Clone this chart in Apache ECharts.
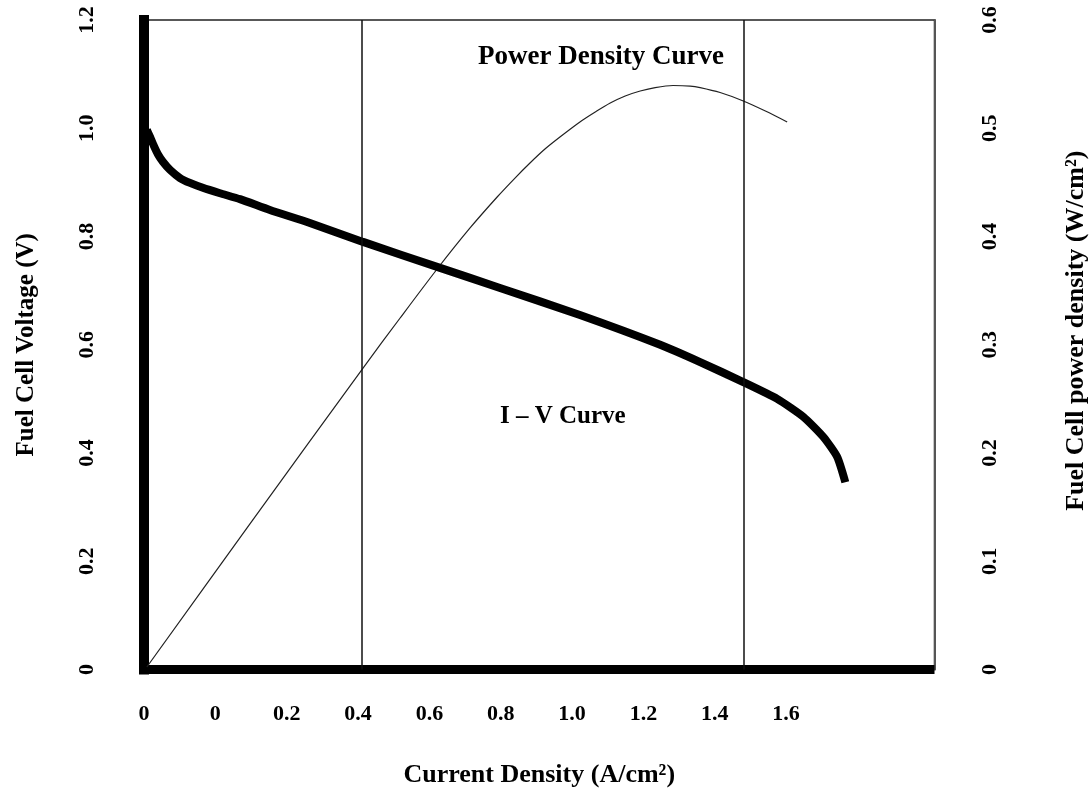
<!DOCTYPE html>
<html>
<head>
<meta charset="utf-8">
<script src="https://cdn.jsdelivr.net/npm/echarts@6/dist/echarts.min.js"></script>
<style>
  html, body { margin: 0; padding: 0; background: #fff; }
  #main { width: 1091px; height: 793px; }
</style>
</head>
<body>
<div id="main"></div>
<script>
// x tick labels as printed on the figure (one per 0.2 step of the axis)
const xTickLabels = ["0", "0", "0.2", "0.4", "0.6", "0.8", "1.0", "1.2", "1.4", "1.6"];

// I-V curve: current density (axis units) / voltage (V)
const ivX = [0.008, 0.017, 0.028, 0.039, 0.053, 0.073, 0.101, 0.129, 0.165, 0.213,
  0.269, 0.353, 0.465, 0.614, 0.830, 0.998, 1.222, 1.447, 1.559, 1.680,
  1.775, 1.848, 1.904, 1.943, 1.966];
const ivY = [0.997, 0.984, 0.967, 0.952, 0.938, 0.923, 0.908, 0.899, 0.890, 0.880,
  0.869, 0.849, 0.825, 0.790, 0.742, 0.705, 0.655, 0.600, 0.568, 0.531,
  0.500, 0.467, 0.430, 0.393, 0.346];

// power density curve: current density (axis units) / W per cm2
const pdX = [0.008, 0.297, 0.614, 0.718, 0.824, 0.914, 0.990, 1.040, 1.082, 1.124,
  1.166, 1.222, 1.265, 1.307, 1.349, 1.391, 1.433, 1.483, 1.531, 1.559,
  1.615, 1.680, 1.742, 1.803];
const pdY = [0.0023, 0.1345, 0.2785, 0.3247, 0.3709, 0.4079, 0.4365, 0.4540, 0.4679, 0.4808,
  0.4919, 0.5058, 0.5150, 0.5233, 0.5298, 0.5344, 0.5376, 0.5395, 0.5390, 0.5376,
  0.5330, 0.5252, 0.5159, 0.5058];

// region boundaries (vertical lines)
const regionLines = [0.613, 1.680];

const font = "Liberation Serif";

function pairs(xs, ys) {
  return xs.map(function (x, i) {
    return [x, ys[i]];
  });
}

var chartDom = document.getElementById("main");
var myChart = echarts.init(chartDom);
var option;

option = {
  animation: false,
  backgroundColor: "#ffffff",
  grid: {
    left: 144,
    right: 156.5,
    top: 20,
    bottom: 123.5,
    outerBoundsMode: "none",
    containLabel: false,
    show: true,
    borderColor: "#222",
    borderWidth: 1.5,
  },
  xAxis: {
    type: "value",
    min: 0,
    max: 2.216,
    interval: 0.2,
    name: "Current Density (A/cm\u00b2)",
    nameLocation: "middle",
    nameGap: 93,
    nameTextStyle: {
      fontFamily: font,
      fontWeight: "bold",
      fontSize: 26,
      color: "#000",
    },
    axisLine: {
      show: true,
      onZero: false,
      lineStyle: { color: "#000", width: 9, cap: "butt" },
    },
    axisTick: { show: false },
    splitLine: { show: false },
    axisLabel: {
      margin: 34,
      fontFamily: font,
      fontWeight: "bold",
      fontSize: 22,
      color: "#000",
      showMaxLabel: false,
      formatter: function (v) {
        return xTickLabels[Math.round(v / 0.2)] || "";
      },
    },
  },
  yAxis: [
    {
      type: "value",
      min: 0,
      max: 1.2,
      interval: 0.2,
      position: "left",
      name: "Fuel Cell Voltage (V)",
      nameLocation: "middle",
      nameGap: 105,
      nameTextStyle: {
        fontFamily: font,
        fontWeight: "bold",
        fontSize: 25,
        color: "#000",
      },
      axisLine: { show: true, lineStyle: { color: "#000", width: 10, cap: "square" } },
      axisTick: { show: false },
      splitLine: { show: false },
      axisLabel: {
        rotate: 90,
        margin: 46,
        fontFamily: font,
        fontWeight: "bold",
        fontSize: 22,
        color: "#000",
        formatter: function (v) {
          return v === 0 ? "0" : v.toFixed(1);
        },
      },
    },
    {
      type: "value",
      min: 0,
      max: 0.6,
      interval: 0.1,
      position: "right",
      name: "Fuel Cell power density (W/cm\u00b2)",
      nameLocation: "middle",
      nameGap: 129,
      nameTextStyle: {
        fontFamily: font,
        fontWeight: "bold",
        fontSize: 26,
        color: "#000",
        padding: [0, 0, 0, 28],
      },
      axisLine: { show: true, lineStyle: { color: "#555", width: 2 } },
      axisTick: { show: false },
      splitLine: { show: false },
      axisLabel: {
        rotate: 90,
        margin: 45,
        fontFamily: font,
        fontWeight: "bold",
        fontSize: 22,
        color: "#000",
        formatter: function (v) {
          return v === 0 ? "0" : v.toFixed(1);
        },
      },
    },
  ],
  graphic: [
    {
      type: "text",
      x: 478,
      y: 57,
      style: {
        text: "Power Density Curve",
        font: "bold 27px '" + font + "'",
        fill: "#000",
        verticalAlign: "middle",
      },
    },
    {
      type: "text",
      x: 500,
      y: 417,
      style: {
        text: "I \u2013 V Curve",
        font: "bold 25px '" + font + "'",
        fill: "#000",
        verticalAlign: "middle",
      },
    },
  ],
  series: [
    {
      name: "Power Density",
      type: "line",
      yAxisIndex: 1,
      data: pairs(pdX, pdY),
      smooth: 0.3,
      showSymbol: false,
      lineStyle: { color: "#222", width: 1.2 },
    },
    {
      name: "I-V",
      type: "line",
      yAxisIndex: 0,
      data: pairs(ivX, ivY),
      smooth: 0.2,
      showSymbol: false,
      lineStyle: { color: "#000", width: 8 },
      markLine: {
        silent: true,
        symbol: "none",
        label: { show: false },
        lineStyle: { color: "#111", width: 1.5, type: "solid" },
        data: regionLines.map(function (x) {
          return { xAxis: x };
        }),
      },
    },
  ],
};

option && myChart.setOption(option);
</script>
</body>
</html>
